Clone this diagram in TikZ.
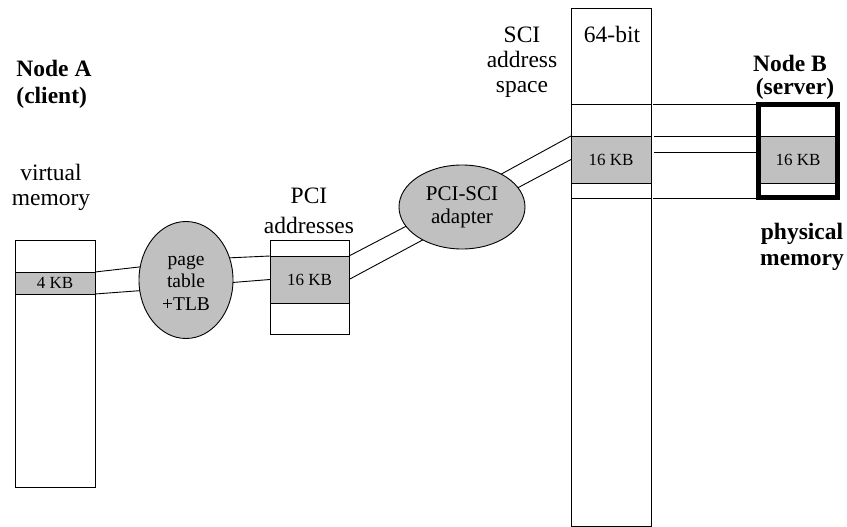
\documentclass[tikz,border=0pt]{standalone}
\usepackage{fontspec}
\setmainfont{Liberation Serif}
\usetikzlibrary{shapes.geometric,calc}
\definecolor{shade}{HTML}{C0C0C0}
\newcommand\biglbl{\fontsize{23.5}{26}\selectfont}
\newcommand\kblbl{\fontsize{17}{20}\selectfont}

\begin{document}
\begin{tikzpicture}[x=1pt,y=-1pt,
  line width=0.9pt,
  memcol/.style={draw, fill=white, inner sep=0pt, outer sep=0pt, anchor=north west},
  memband/.style={draw, fill=shade, inner sep=0pt, outer sep=0pt, anchor=north west, font=\kblbl},
  unit/.style={draw, ellipse, fill=shade, inner sep=0pt, outer sep=0pt, align=center},
  lbl/.style={anchor=base, inner sep=0pt, font=\biglbl},
  boldlbl/.style={anchor=base, inner sep=0pt, font=\biglbl\bfseries}]

\useasboundingbox (0,0) rectangle (847,527);

% --- Node A: virtual memory -------------------------------------------
\node[memcol, minimum width=80, minimum height=247] (vm) at (15,240) {};
\node[memband, minimum width=80, minimum height=22] (vmband) at (15,272) {4 KB};

% --- page table / TLB ---------------------------------------------------
\node[unit, minimum width=94, minimum height=117,
      font=\fontsize{19.5}{22.5}\selectfont] (pt) at (186,280) {\strut page\\table\\+TLB};

% --- PCI address range ---------------------------------------------------
\node[memcol, minimum width=79, minimum height=94] (pci) at (270,240) {};
\node[memband, minimum width=79, minimum height=47] (pciband) at (270,256) {16 KB};

% --- PCI-SCI adapter -----------------------------------------------------
\node[unit, minimum width=126, minimum height=84,
      font=\fontsize{21}{23}\selectfont] (adapter) at (462,207) {PCI-SCI\\adapter};

% --- 64-bit SCI address space -------------------------------------------
\node[memcol, minimum width=80, minimum height=518] (sci) at (571,8) {};
\node[memcol, minimum width=80, minimum height=94] (sciregion) at (571,104) {};
\node[memband, minimum width=80, minimum height=47] (sciband) at (571,136) {16 KB};

% --- Node B: physical memory --------------------------------------------
\node[memband, minimum width=79, minimum height=47] (physband) at (758.5,136) {16 KB};

% --- address translation links -------------------------------------------
\draw (vmband.north east) -- (pt.164);
\draw (vmband.south east) -- (pt.193);
\draw (pt.27) -- (pciband.north west);
\draw (pt.-3) -- (pciband.west);
\draw (pciband.north east) -- (adapter.199);
\draw (pciband.east) -- (adapter.220);
\draw (adapter.40) -- (sciband.north west);
\draw (adapter.19) -- (sciband.west);

% --- SCI range mapped onto the server's memory --------------------------
\node[draw, line width=5pt, inner sep=0pt, outer sep=0pt, anchor=north west,
      minimum width=79, minimum height=93] (physB) at (758.5,104.5) {};
\draw ([xshift=2]sciregion.north east) -- (sciregion.north east -| physB.west);
\draw ([xshift=3]sciband.north east) -- (sciband.north east -| physB.west);
\draw ($(sciband.north east)+(3,16)$) -- ($(sciband.north east -| physB.west)+(0,16)$);
\draw ([xshift=2]sciregion.south east) -- (sciregion.south east -| physB.west);

% --- labels ---------------------------------------------------------------
\node[boldlbl, anchor=base west] (lblA) at (16,77) {Node A};
\node[boldlbl, anchor=base west] (lblClient) at (16,103) {(client)};
\node[lbl] (lblVirt) at (51,180) {virtual};
\node[lbl] (lblVmem) at (51,205) {memory};
\node[lbl] (lblPci) at (309,203) {PCI};
\node[lbl] (lblAddr) at (309,233) {addresses};
\node[lbl] (lblSci) at (522,43) {SCI};
\node[lbl] (lblSciAddr) at (522,68) {address};
\node[lbl] (lblSpace) at (522,93) {space};
\node[lbl] (lblBits) at (612,43) {64-bit};
\node[boldlbl] (lblB) at (790,72) {Node B};
\node[boldlbl] (lblServer) at (795,95) {(server)};
\node[boldlbl] (lblPhys) at (802,239) {physical};
\node[boldlbl] (lblPmem) at (802,265) {memory};

\end{tikzpicture}
\end{document}
